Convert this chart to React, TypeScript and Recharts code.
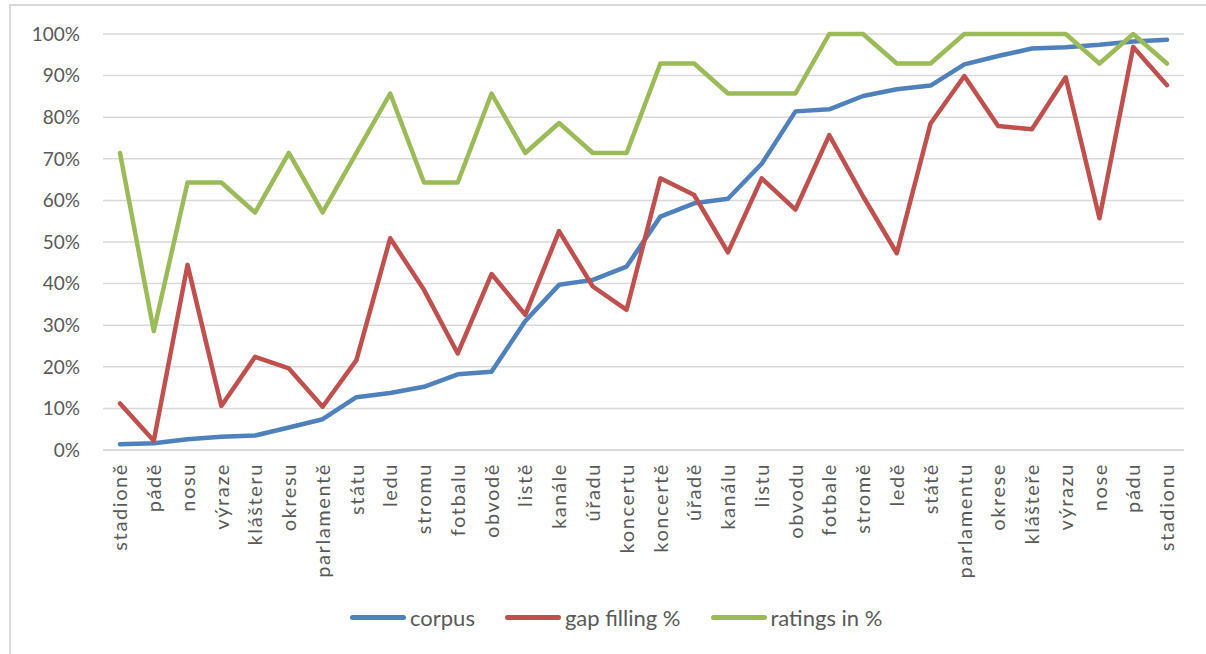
import { LineChart, Line, XAxis, YAxis, CartesianGrid } from 'recharts';

const words = [
  'stadioně', 'pádě', 'nosu', 'výraze', 'klášteru', 'okresu', 'parlamentě', 'státu', 'ledu', 'stromu',
  'fotbalu', 'obvodě', 'listě', 'kanále', 'úřadu', 'koncertu', 'koncertě', 'úřadě', 'kanálu', 'listu',
  'obvodu', 'fotbale', 'stromě', 'ledě', 'státě', 'parlamentu', 'okrese', 'klášteře', 'výrazu', 'nose',
  'pádu', 'stadionu',
];

const corpus = [
  1.4, 1.6, 2.6, 3.2, 3.5, 5.4, 7.4, 12.7, 13.7, 15.2,
  18.2, 18.8, 31.0, 39.7, 40.9, 44.1, 56.1, 59.3, 60.4, 68.8,
  81.4, 81.9, 85.1, 86.7, 87.6, 92.7, 94.7, 96.5, 96.8, 97.4,
  98.2, 98.6,
];

const gapFilling = [
  11.2, 2.2, 44.5, 10.6, 22.4, 19.6, 10.4, 21.6, 50.9, 38.5,
  23.2, 42.3, 32.5, 52.6, 39.3, 33.7, 65.3, 61.3, 47.5, 65.3,
  57.8, 75.7, 61.0, 47.3, 78.5, 89.9, 77.9, 77.1, 89.6, 55.7,
  96.9, 87.7,
];

const ratings = [
  71.4, 28.6, 64.3, 64.3, 57.1, 71.4, 57.1, 71.4, 85.7, 64.3,
  64.3, 85.7, 71.4, 78.6, 71.4, 71.4, 92.9, 92.9, 85.7, 85.7,
  85.7, 100, 100, 92.9, 92.9, 100, 100, 100, 100, 92.9,
  100, 92.9,
];

const yTicks = [0, 10, 20, 30, 40, 50, 60, 70, 80, 90, 100];

const series = [
  { key: 'corpus', name: 'corpus', color: '#4F81BD' },
  { key: 'gap', name: 'gap filling %', color: '#C0504D' },
  { key: 'ratings', name: 'ratings in %', color: '#9BBB59' },
];

const data = words.map((w, i) => ({ word: w, corpus: corpus[i], gap: gapFilling[i], ratings: ratings[i] }));

const FONT = 'Lato, "Open Sans", sans-serif';
const TEXT = '#595959';

function WordTick({ x, y, payload }: any) {
  return (
    <text
      x={x}
      y={y + 5}
      transform={`rotate(-90, ${x}, ${y + 5})`}
      textAnchor="end"
      dy="0.36em"
      fill={TEXT}
      fontSize={20}
      fontFamily={FONT}
      letterSpacing={1.6}
    >
      {payload.value}
    </text>
  );
}

export default function App() {
  return (
    <div style={{ position: 'absolute', left: 0, top: 0, width: 1206, height: 654, background: '#fff', overflow: 'hidden' }}>
      {/* frame */}
      <div style={{ position: 'absolute', left: 9, top: 4, width: 1300, height: 700, borderTop: '2px solid #d9d9d9', borderLeft: '2px solid #d9d9d9' }} />
      <div style={{ position: 'absolute', left: 0, top: 0 }}>
        <LineChart width={1206} height={654} data={data} margin={{ top: 34, right: 22, bottom: 64, left: 0 }}>
          <CartesianGrid vertical={false} stroke="#d9d9d9" strokeWidth={1.5} />
          <XAxis
            dataKey="word"
            interval={0}
            height={140}
            padding={{ left: 17, right: 17 }}
            axisLine={{ stroke: '#d9d9d9', strokeWidth: 1.5 }}
            tickLine={false}
            tick={<WordTick />}
          />
          <YAxis
            width={103}
            domain={[0, 100]}
            ticks={yTicks}
            interval={0}
            axisLine={false}
            tickLine={false}
            tickMargin={17}
            tickFormatter={(v: number) => `${v}%`}
            tick={{ fill: TEXT, fontSize: 19, fontFamily: FONT }}
          />
          {series.map((s) => (
            <Line
              key={s.key}
              type="linear"
              dataKey={s.key}
              name={s.name}
              stroke={s.color}
              strokeWidth={4.5}
              strokeLinejoin="round"
              strokeLinecap="round"
              dot={false}
              activeDot={false}
              isAnimationActive={false}
            />
          ))}
        </LineChart>
      </div>
      <div style={{ position: 'absolute', left: 350, top: 604, display: 'flex', alignItems: 'center', gap: 30, fontFamily: FONT, fontSize: 22, color: TEXT }}>
        {series.map((s) => (
          <div key={s.key} style={{ display: 'flex', alignItems: 'center' }}>
            <div style={{ width: 56, height: 5, borderRadius: 3, background: s.color, marginRight: 4 }} />
            <span>{s.name}</span>
          </div>
        ))}
      </div>
    </div>
  );
}
